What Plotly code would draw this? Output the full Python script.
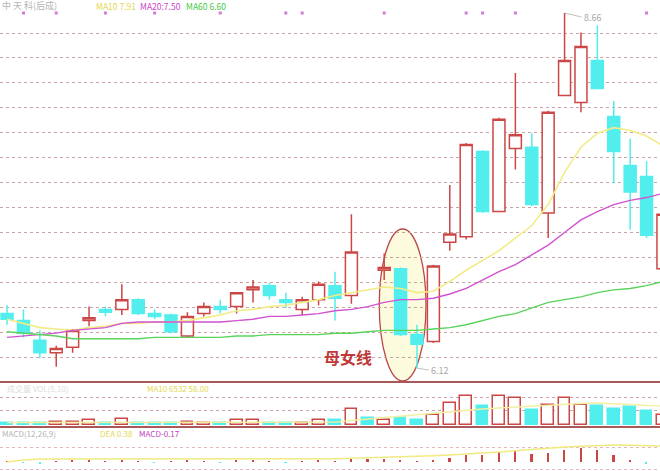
import plotly.graph_objects as go

W, H = 660, 471

# ---------------- data ----------------
idx = list(range(41))
opens  = [6.51, 6.46, 6.32, 6.23, 6.27, 6.46, 6.54, 6.54, 6.61, 6.51,
          6.50, 6.35, 6.51, 6.56, 6.56, 6.68, 6.71, 6.61, 6.54, 6.61,
          6.71, 6.64, None, 6.82, 6.83, 6.36, 6.31, 7.02, 7.06, 7.67,
          7.24, 7.69, 7.70, 7.23, 8.07, 8.02, 8.32, 7.92, 7.57, 7.49, 6.83]
highs  = [6.57, 6.54, 6.39, 6.28, 6.40, 6.56, 6.56, 6.72, 6.62, 6.54,
          6.51, 6.52, 6.59, 6.61, 6.66, 6.75, 6.73, 6.66, 6.63, 6.74,
          6.81, 7.22, None, 6.94, 6.84, 6.43, 6.86, 7.43, 7.73, 7.68,
          7.91, 8.23, 7.80, 7.96, 8.66, 8.52, 8.57, 8.03, 7.76, 7.60, 7.25]
lows   = [6.43, 6.34, 6.19, 6.13, 6.23, 6.42, 6.49, 6.50, 6.50, 6.47,
          6.37, 6.34, 6.49, 6.51, 6.51, 6.59, 6.61, 6.55, 6.50, 6.57,
          6.46, 6.58, None, 6.75, 6.35, 6.12, 6.30, 6.96, 7.04, 7.23,
          7.24, 7.54, 7.28, 7.05, 8.07, 7.95, 8.12, 7.44, 7.11, 7.05, 6.80]
closes = [6.47, 6.37, 6.23, 6.26, 6.39, 6.48, 6.52, 6.61, 6.51, 6.49,
          6.38, 6.49, 6.56, 6.54, 6.66, 6.70, 6.64, 6.59, 6.61, 6.72,
          6.62, 6.95, None, 6.84, 6.36, 6.29, 6.85, 7.08, 7.72, 7.24,
          7.90, 7.79, 7.29, 7.95, 8.32, 8.42, 8.12, 7.67, 7.38, 7.07, 7.22]

ma10 = [6.47, 6.44, 6.41, 6.40, 6.39, 6.41, 6.42, 6.44, 6.44, 6.45,
        6.45, 6.46, 6.48, 6.50, 6.53, 6.54, 6.56, 6.57, 6.59, 6.61,
        6.64, 6.66, 6.68, 6.70, 6.69, 6.66, 6.67, 6.74, 6.82, 6.89,
        6.96, 7.05, 7.14, 7.29, 7.52, 7.70, 7.80, 7.84, 7.82, 7.78, 7.71]
ma20 = [6.34, 6.35, 6.36, 6.37, 6.39, 6.40, 6.41, 6.44, 6.45, 6.45,
        6.45, 6.45, 6.45, 6.45, 6.46, 6.47, 6.49, 6.49, 6.50, 6.51,
        6.53, 6.54, 6.56, 6.59, 6.61, 6.61, 6.62, 6.65, 6.69, 6.75,
        6.81, 6.86, 6.93, 7.00, 7.09, 7.18, 7.24, 7.29, 7.32, 7.34, 7.37]
ma60 = [6.38, 6.37, 6.36, 6.35, 6.33, 6.33, 6.33, 6.33, 6.33, 6.34,
        6.34, 6.34, 6.34, 6.34, 6.35, 6.35, 6.36, 6.36, 6.36, 6.36,
        6.37, 6.37, 6.38, 6.39, 6.39, 6.39, 6.40, 6.41, 6.43, 6.46,
        6.49, 6.51, 6.55, 6.59, 6.61, 6.63, 6.66, 6.68, 6.69, 6.71, 6.74]

volume = [20, 20, 20, 30, 30, 50, 20, 60, 20, 20,
          20, 30, 20, 20, 50, 50, 20, 20, 20, 50,
          50, 160, 70, 50, 70, 50, 100, 220, 290, 190,
          290, 270, 150, 200, 270, 200, 190, 160, 180, 140, 100]
vol_down = [True, True, True, False, False, False, True, False, True, True,
            True, False, False, True, False, False, True, True, False, False,
            True, False, True, False, True, True, False, False, False, True,
            False, False, True, False, False, False, True, True, True, True, False]
vol_ma = [25, 25, 25, 25, 25, 28, 30, 32, 30, 28,
          25, 25, 25, 25, 28, 32, 32, 30, 28, 30,
          28, 45, 60, 75, 90, 105, 120, 135, 150, 160,
          170, 180, 190, 195, 205, 215, 220, 215, 205, 195, 190]

macd = [0.02, -0.02, -0.03, 0.02, 0.03, 0.03, 0.02, 0.04, 0.02, -0.02,
        0.02, 0.03, 0.02, -0.02, 0.03, 0.04, 0.02, -0.02, 0.02, 0.03,
        0.02, 0.07, 0.07, 0.07, 0.03, 0.02, 0.05, 0.10, 0.17, 0.17,
        0.24, 0.26, 0.19, 0.22, 0.29, 0.34, 0.29, 0.17, 0.03, -0.05, -0.17]
dea = [0.00, 0.05, 0.07, 0.07, 0.07, 0.07, 0.07, 0.07, 0.07, 0.07,
       0.07, 0.07, 0.07, 0.08, 0.08, 0.08, 0.08, 0.08, 0.08, 0.08,
       0.08, 0.09, 0.10, 0.11, 0.12, 0.13, 0.15, 0.17, 0.19, 0.22,
       0.24, 0.27, 0.30, 0.34, 0.36, 0.38, 0.40, 0.41, 0.40, 0.39, 0.38]

marker_idx = [1, 3, 6, 9, 13, 17, 18, 23, 28, 29, 31, 39]
mother, daughter = 24, 25

# ---------------- styling ----------------
RED = "#cc4646"
CYAN = "#52eeee"
GRID = "#c9a3a3"
BORDER = "#a85858"

xr = [-0.43, 39.82]
fig = go.Figure()

ci = [i for i in idx if opens[i] is not None]
fig.add_trace(go.Candlestick(
    x=ci, open=[opens[i] for i in ci], high=[highs[i] for i in ci],
    low=[lows[i] for i in ci], close=[closes[i] for i in ci],
    increasing=dict(line=dict(color=RED, width=1.5), fillcolor="white"),
    decreasing=dict(line=dict(color=CYAN, width=1.5), fillcolor=CYAN),
    whiskerwidth=0, xaxis="x", yaxis="y", hoverinfo="skip"))

fig.add_trace(go.Scatter(x=idx, y=ma10, mode="lines", line=dict(color="#f2ec86", width=1.6),
                         xaxis="x", yaxis="y", hoverinfo="skip"))
fig.add_trace(go.Scatter(x=idx, y=ma20, mode="lines", line=dict(color="#d052d0", width=1.4),
                         xaxis="x", yaxis="y", hoverinfo="skip"))
fig.add_trace(go.Scatter(x=idx, y=ma60, mode="lines", line=dict(color="#5ad35a", width=1.4),
                         xaxis="x", yaxis="y", hoverinfo="skip"))

top_val = max(h for h in highs if h is not None)
fig.add_trace(go.Scatter(x=marker_idx, y=[top_val] * len(marker_idx), mode="markers",
                         marker=dict(symbol="square", size=3, color="#d57ad5"),
                         xaxis="x", yaxis="y", hoverinfo="skip"))

# volume
fig.add_trace(go.Bar(
    x=idx, y=volume, width=0.72,
    marker=dict(color=[CYAN if d else "white" for d in vol_down],
                line=dict(color=[CYAN if d else RED for d in vol_down], width=1.5)),
    xaxis="x2", yaxis="y2", hoverinfo="skip"))
fig.add_trace(go.Scatter(x=idx, y=vol_ma, mode="lines", line=dict(color="#f3efa0", width=1.3),
                         xaxis="x2", yaxis="y2", hoverinfo="skip"))

# macd
fig.add_trace(go.Bar(
    x=idx, y=macd, width=0.1,
    marker=dict(color=[RED if v >= 0 else CYAN for v in macd], line=dict(width=0)),
    xaxis="x3", yaxis="y3", hoverinfo="skip"))
fig.add_trace(go.Scatter(x=idx, y=dea, mode="lines", line=dict(color="#f0ea80", width=1.5),
                         xaxis="x3", yaxis="y3", hoverinfo="skip"))

# axes
p_top, p_bot = 8.753, 6.028
g0, gd = 8.517, 0.1783
grid_vals = [g0 - k * gd for k in range(14)]

def px2paper(py):
    return 1 - py / H

main_dom = [px2paper(381), 1.0]
vol_dom = [px2paper(427), px2paper(382)]
macd_dom = [0.0, px2paper(427)]

xcommon = dict(range=xr, showgrid=False, zeroline=False, showticklabels=False,
               fixedrange=True, showline=False)
fig.update_layout(
    width=W, height=H, margin=dict(l=0, r=0, t=0, b=0),
    paper_bgcolor="white", plot_bgcolor="white", showlegend=False,
    boxgap=0.27, boxgroupgap=0, bargap=0,
    font=dict(family="Noto Sans CJK SC, DejaVu Sans", size=9),
    xaxis=dict(domain=[0, 1], anchor="y", rangeslider=dict(visible=False), **xcommon),
    xaxis2=dict(domain=[0, 1], anchor="y2", matches="x", **xcommon),
    xaxis3=dict(domain=[0, 1], anchor="y3", matches="x", **xcommon),
    yaxis=dict(domain=main_dom, range=[p_bot, p_top], tickmode="array", tickvals=grid_vals,
               showticklabels=False, showgrid=True, gridcolor=GRID, griddash="dot",
               gridwidth=1, zeroline=False, showline=True, linecolor="#d0d0d0", linewidth=1),
    yaxis2=dict(domain=vol_dom, range=[-20, 430], tickmode="array", tickvals=[150, 280],
                showticklabels=False, showgrid=True, gridcolor=GRID, griddash="dot",
                zeroline=False),
    yaxis3=dict(domain=macd_dom, range=[-0.216, 0.84], tickmode="array", tickvals=[0.36, -0.19],
                showticklabels=False, showgrid=True, gridcolor="#e8b8b8", griddash="dot",
                zeroline=False),
)

# pane borders
for py in (382, 427):
    fig.add_shape(type="line", xref="paper", yref="paper", x0=0, x1=1,
                  y0=px2paper(py), y1=px2paper(py), line=dict(color=BORDER, width=2))

# ellipse around mother/daughter candles
fig.add_shape(type="circle", xref="x", yref="y", layer="below",
              x0=mother - 1.3, x1=daughter + 0.55, y0=p_bot, y1=7.115,
              fillcolor="rgba(253,250,215,0.85)", line=dict(color="#b84848", width=1.3))

anns = []
def ann(px, py, text, color, size=9, **kw):
    d = dict(xref="paper", yref="paper", x=px / W, y=1 - py / H, text=text,
             showarrow=False, xanchor="left", yanchor="middle",
             font=dict(color=color, size=size))
    d.update(kw)
    anns.append(d)

ann(0, 6, "中 天 科(后成)", "#b4b4b4")
ann(94, 6, "MA10 7.91", "#e4d850", size=8.5)
ann(138, 6, "MA20:7.50", "#cc44cc", size=8.5)
ann(184, 6, "MA60 6.60", "#44c844", size=8.5)
ann(5, 388, "成交量 VOL(5,10)", "#dcdcdc", size=8)
ann(145, 388, "MA10 6532 58.00", "#e4d850", size=8)
ann(0, 433, "MACD(12,26,9)", "#b4b4b4", size=8)
ann(98, 433, "DEA 0.38", "#e4d850", size=8)
ann(137, 433, "MACD-0.17", "#c040c0", size=8)

anns.append(dict(xref="x", yref="y", x=34, y=top_val, text="8.66", showarrow=True,
                 arrowhead=0, arrowwidth=0.8, arrowcolor="#b0b0b0", ax=17, ay=4,
                 xanchor="left", font=dict(color="#a8a8a8", size=9)))
low_val = min(l for l in lows if l is not None)
anns.append(dict(xref="x", yref="y", x=daughter, y=low_val, text="6.12", showarrow=True,
                 arrowhead=0, arrowwidth=0.8, arrowcolor="#b0b0b0", ax=12, ay=2,
                 xanchor="left", font=dict(color="#a8a8a8", size=9)))
anns.append(dict(xref="x", yref="y", x=20.8, y=6.20, text="<b>母女线</b>", showarrow=False,
                 font=dict(color="#c03838", size=16, family="Noto Sans CJK SC")))

fig.update_layout(annotations=anns)
fig.write_html("out.html", config={"displayModeBar": False},
               post_script="document.body.style.margin='0';")
